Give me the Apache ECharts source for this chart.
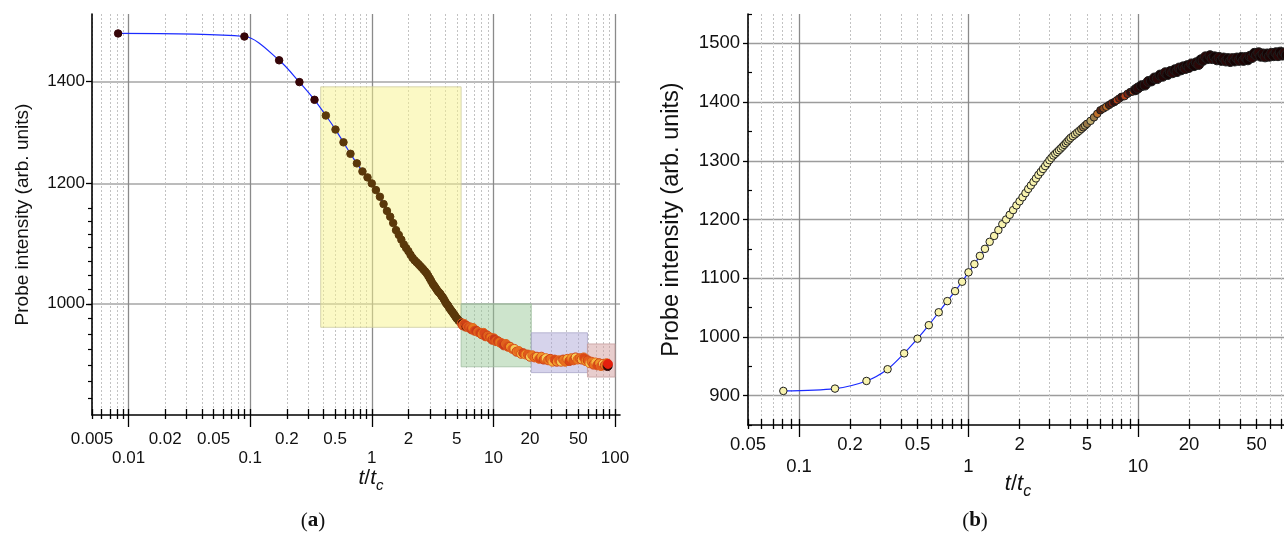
<!DOCTYPE html>
<html>
<head>
<meta charset="utf-8">
<script src="https://cdn.jsdelivr.net/npm/echarts@6/dist/echarts.min.js"></script>
<style>
  html, body { margin: 0; padding: 0; background: #ffffff; }
  #chart { width: 1284px; height: 536px; }
</style>
</head>
<body>
<div id="chart"></div>
<script>
// ---------- data ----------
// Panel (a): probe intensity while the pattern decays
const timeA = [
  0.0082, 0.0896, 0.173, 0.254, 0.338, 0.419, 0.503, 0.585, 0.668, 0.754,
  0.838, 0.922, 1.0, 1.081, 1.166, 1.25, 1.333, 1.417, 1.5, 1.583,
  1.667, 1.75, 1.833, 1.917, 2.0, 2.083, 2.167, 2.25, 2.333, 2.417,
  2.5, 2.583, 2.667, 2.75, 2.833, 2.917, 3.0, 3.083, 3.167, 3.25,
  3.333, 3.417, 3.5, 3.583, 3.667, 3.75, 3.833, 3.917, 4.0, 4.083,
  4.167, 4.25, 4.333, 4.417, 4.5, 4.583, 4.667, 4.75, 4.833, 4.917,
  5.0, 5.083, 5.167, 5.25, 5.333, 5.417,
  5.5, 5.6, 5.75, 5.9, 6.05, 6.2, 6.4, 6.6, 6.8, 7.0,
  7.25, 7.5, 7.75, 8.0, 8.3, 8.6, 8.9, 9.2, 9.5, 9.8,
  10.1, 10.5, 10.9, 11.3, 11.7, 12.2, 12.7, 13.2, 13.7, 14.3,
  14.9, 15.5, 16.2, 16.9, 17.6, 18.4, 19.2, 20.0, 20.9, 21.8,
  22.8, 23.8, 24.8, 25.9, 27.0, 28.2, 29.4, 30.6, 31.9, 33.2,
  34.6, 36.0, 37.5, 39.0, 40.6, 42.2, 43.9, 45.6, 47.4, 49.3,
  51.2, 53.2, 55.3, 57.4, 59.6, 61.8, 64.1, 66.5, 69.0, 71.5,
  74.1, 76.8, 79.6, 82.4, 85.3, 87.0, 87.5
];
const intensityA = [
  1506, 1499, 1446, 1399, 1362, 1330, 1302, 1277, 1255, 1237,
  1222, 1211, 1200, 1188, 1176, 1163, 1151, 1141, 1130, 1118,
  1110, 1102, 1094, 1088, 1083, 1077, 1072, 1068, 1065, 1062,
  1059, 1056, 1053, 1050, 1047, 1043, 1039, 1035, 1031, 1028,
  1025, 1022, 1019, 1017, 1015, 1012, 1010, 1007, 1004, 1001,
  999, 997, 994, 992, 990, 988, 986, 984, 982, 980,
  978, 977, 975, 974, 973, 972,
  971, 968, 970, 966, 967, 965, 965, 962, 964, 960,
  960, 958, 957, 955, 957, 952, 953, 951, 950, 947,
  949, 945, 945, 943, 942, 939, 941, 937, 937, 934,
  934, 930, 931, 927, 928, 926, 926, 923, 925, 922,
  923, 920, 923, 919, 921, 918, 920, 916, 919, 916,
  918, 916, 919, 916, 920, 917, 921, 918, 922, 919,
  921, 919, 922, 917, 918, 914, 916, 912, 915, 911,
  914, 910, 913, 911, 914, 910, 913
];

// Panel (b): probe intensity while the pattern is written
const timeB = [
  0.0808, 0.163, 0.25, 0.333, 0.417, 0.5, 0.583, 0.667, 0.75, 0.833,
  0.917, 1.0, 1.083, 1.167, 1.25, 1.333, 1.417, 1.5, 1.583, 1.667,
  1.75, 1.833, 1.917, 2.0, 2.083, 2.167, 2.25, 2.333, 2.417, 2.5,
  2.583, 2.667, 2.75, 2.833, 2.917, 3.0, 3.083, 3.167, 3.25, 3.333,
  3.417, 3.5, 3.583, 3.667, 3.75, 3.833, 3.917, 4.0, 4.125, 4.25,
  4.375, 4.5, 4.625, 4.75, 4.875, 5.0, 5.25, 5.5, 5.75, 6.0,
  6.25, 6.5, 6.75, 7.0, 7.25, 7.5, 7.75, 8.0, 8.33, 8.67,
  9.0, 9.33, 9.67, 10.0, 10.5, 11.0, 11.5, 12.0, 12.5, 13.0,
  13.5, 14.0, 14.5, 15.0, 15.5, 16.0, 16.5, 17.0, 17.5, 18.0,
  18.5, 19.0, 19.5, 20.0, 20.7, 21.4, 22.1, 22.8, 23.5, 24.2,
  25.0, 25.8, 26.6, 27.4, 28.3, 29.2, 30.1, 31.0, 32.0, 33.0,
  34.0, 35.0, 36.1, 37.2, 38.3, 39.5, 40.7, 41.9, 43.2, 44.5,
  45.8, 47.2, 48.6, 50.0, 51.5, 53.0, 54.6, 56.2, 57.9, 59.6,
  61.4, 63.2, 65.1, 67.0, 69.0, 71.0, 73.1, 75.0
];
const intensityB = [
  908, 912, 925, 945, 972, 997, 1020, 1042, 1061, 1078,
  1094, 1110, 1124, 1138, 1150, 1162, 1172, 1182, 1192, 1200,
  1208, 1216, 1224, 1231, 1238, 1245, 1252, 1258, 1264, 1270,
  1276, 1281, 1286, 1291, 1296, 1301, 1305, 1309, 1312, 1315,
  1318, 1321, 1324, 1327, 1330, 1333, 1336, 1339, 1342, 1345,
  1348, 1351, 1354, 1357, 1360, 1363, 1368, 1374, 1380, 1386,
  1389, 1392, 1395, 1398, 1400, 1403, 1406, 1409, 1410, 1414,
  1417, 1418, 1421, 1424, 1428, 1429, 1435, 1436, 1441, 1440,
  1446, 1444, 1450, 1447, 1452, 1450, 1455, 1452, 1458, 1455,
  1460, 1457, 1462, 1459, 1465, 1462, 1467, 1464, 1472, 1471,
  1477, 1474, 1479, 1474, 1477, 1472, 1476, 1471, 1475, 1470,
  1474, 1469, 1474, 1470, 1475, 1471, 1476, 1471, 1476, 1472,
  1478, 1476, 1483, 1480, 1484, 1478, 1482, 1477, 1482, 1478,
  1483, 1479, 1484, 1479, 1485, 1480, 1484, 1480
];

// Shaded stages in (a): time span and intensity span of each box
const stageTime = [[0.38, 5.43], [5.43, 20.5], [20.5, 59.4], [59.4, 100]];
const stageIntensity = [[1389, 965], [1000, 909], [957, 901], [941, 895]];

// Tick labels
const decadeLabelsA = [0.01, 0.1, 1, 10, 100];
const minorLabelsA = [0.005, 0.02, 0.05, 0.2, 0.5, 2, 5, 20, 50];
const yLabelsA = [1000, 1200, 1400];
const decadeLabelsB = [0.1, 1, 10];
const minorLabelsB = [0.05, 0.2, 0.5, 2, 5, 20, 50];
const yLabelsB = [900, 1000, 1100, 1200, 1300, 1400, 1500];

// ---------- helpers ----------
const FONT = '"Liberation Sans", Arial, Helvetica, sans-serif';
const L = Math.log10;

function decadeSubTicks(lo, hi) {
  const out = [];
  for (let k = -4; k <= 3; k++) {
    for (let m = 2; m <= 9; m++) {
      const v = Number((m * Math.pow(10, k)).toPrecision(6));
      if (v >= lo && v <= hi) out.push(v);
    }
  }
  return out;
}
const fmtLog = v => String(Number(Math.pow(10, v).toPrecision(2)));

// four stacked x axes per panel: decade ticks (out / in) and sub-decade ticks (out / in)
function logXAxes(grid, tMin, tMax, decades, minorLabels, fs, m1, m2, tick) {
  const lo = L(tMin), hi = L(tMax);
  const major = decades.map(L);
  const decadeTicks = [];
  for (let k = -3; k <= 3; k++) {
    const v = Math.pow(10, k);
    if (v >= tMin && v <= tMax) decadeTicks.push(L(v));
  }
  const minor = decadeSubTicks(tMin, tMax).map(L);
  const base = {
    type: 'value', gridIndex: grid, min: lo, max: hi, position: 'bottom',
    axisLine: { show: false, onZero: false },
    axisLabel: { show: false }, splitLine: { show: false }, axisTick: { show: false }
  };
  const tickStyle = { color: '#000', width: 1.3 };
  const lbl = { show: true, fontSize: fs, fontFamily: FONT, color: '#111', formatter: fmtLog };
  return [
    Object.assign({}, base, {
      axisLine: { show: true, onZero: false, lineStyle: { color: '#000', width: 1.6 } },
      axisTick: { show: true, customValues: decadeTicks, length: tick[0], lineStyle: tickStyle },
      splitLine: { show: true, lineStyle: { color: '#8a8a8a', width: 1.3 } },
      axisLabel: Object.assign({}, lbl, { customValues: major, margin: m2 })
    }),
    Object.assign({}, base, {
      axisTick: { show: true, inside: true, customValues: decadeTicks, length: tick[1], lineStyle: tickStyle }
    }),
    Object.assign({}, base, {
      axisTick: { show: true, customValues: minor, length: tick[2], lineStyle: tickStyle },
      splitLine: { show: true, lineStyle: { color: '#c2c2c2', width: 1, type: [2, 2] } },
      axisLabel: Object.assign({}, lbl, { customValues: minorLabels.map(L), margin: m1 })
    }),
    Object.assign({}, base, {
      axisTick: { show: true, inside: true, customValues: minor, length: tick[3], lineStyle: tickStyle }
    })
  ];
}

// sub-ticks on the log intensity axis of (a)
const yMinorA = [];
for (let k = -7; k <= 7; k++) yMinorA.push(1000 + k * 200 / 9);

const yMinorB = [];
for (let v = 850; v <= 1550; v += 100) yMinorB.push(v);

const xAxes = [].concat(
  logXAxes(0, 0.005, 110, decadeLabelsA, minorLabelsA, 17, 16, 35, [12, 6, 4, 6]),
  logXAxes(1, 0.05, 100, decadeLabelsB, minorLabelsB, 18.5, 10, 32, [12, 6, 4, 6])
);

const yBase = { type: 'value', position: 'left', axisLine: { show: false, onZero: false },
  splitLine: { show: false }, axisLabel: { show: false } };

const yAxes = [
  Object.assign({}, yBase, {
    gridIndex: 0, min: L(845), max: L(1551),
    axisLine: { show: true, onZero: false, lineStyle: { color: '#000', width: 1.6 } },
    axisTick: { show: true, customValues: yLabelsA.map(L), length: 6, lineStyle: { color: '#000', width: 1.3 } },
    splitLine: { show: true, lineStyle: { color: '#a6a6a6', width: 1.5 } },
    axisLabel: { show: true, customValues: yLabelsA.map(L), margin: 7, fontSize: 17, fontFamily: FONT, color: '#111',
      formatter: v => String(Math.round(Math.pow(10, v))) },
    name: 'Probe intensity (arb. units)', nameLocation: 'middle', nameGap: 60,
    nameTextStyle: { fontSize: 19, fontFamily: FONT, color: '#111' }
  }),
  Object.assign({}, yBase, {
    gridIndex: 0, min: L(845), max: L(1551),
    axisTick: { show: true, customValues: yMinorA.map(L), length: 4, lineStyle: { color: '#000', width: 1.2 } }
  }),
  Object.assign({}, yBase, {
    gridIndex: 1, min: 850, max: 1550,
    axisLine: { show: true, onZero: false, lineStyle: { color: '#000', width: 1.6 } },
    axisTick: { show: true, customValues: yLabelsB, length: 5, lineStyle: { color: '#000', width: 1.3 } },
    splitLine: { show: true, lineStyle: { color: '#9c9c9c', width: 1.4 } },
    axisLabel: { show: true, customValues: yLabelsB, margin: 8, fontSize: 18.5, fontFamily: FONT, color: '#111',
      formatter: v => String(v) },
    name: 'Probe intensity (arb. units)', nameLocation: 'middle', nameGap: 64,
    nameTextStyle: { fontSize: 23.5, fontFamily: FONT, color: '#111' }
  }),
  Object.assign({}, yBase, {
    gridIndex: 1, min: 850, max: 1550,
    axisTick: { show: true, inside: true, customValues: yMinorB, length: 4, lineStyle: { color: '#000', width: 1.2 } }
  })
];

// ---------- point styling ----------
const lateFill = ['#e8701e', '#f4b640', '#dc4816', '#f0962a', '#e25a1a', '#f6cc58', '#ea7a22'];
const lateEdge = ['#d9531a', '#cc4016', '#e2681e'];
function colorA(i) {
  const t = timeA[i];
  if (t < 0.38) return '#360508';
  if (t < 5.45) return '#5a380a';
  if (i === timeA.length - 2) return '#2e0a08';
  if (i === timeA.length - 1) return '#e4200e';
  if (t < 6.3 && i % 3 === 0) return '#4a1608';
  if (t < 13) return ['#d9481a', '#c9381a', '#e0601e', '#cf4216', '#e8781e'][i % 5];
  return lateFill[i % lateFill.length];
}
function edgeA(i) {
  const t = timeA[i];
  if (t < 5.45 || i >= timeA.length - 2) return colorA(i);
  return lateEdge[i % lateEdge.length];
}
function sizeA(i) { return timeA[i] < 5.45 ? 7.5 : 9; }

function fillB(i) {
  const t = timeB[i];
  if (t < 3.6) return '#f8f3ae';
  if (t < 4.6) return '#e6dc96';
  if (t < 5.6) return ['#c0ab6c', '#9c7a48'][i % 2];
  if (t < 6.8) return ['#8a4a22', '#c0702a', '#5a2410'][i % 3];
  if (t < 9.5) return ['#7a2412', '#3a0c08', '#b0401a'][i % 3];
  return ['#200505', '#2a0707', '#160303'][i % 3];
}
function sizeB(i) { return timeB[i] < 9.5 ? 7.5 : 10; }

// ---------- series data ----------
const lineA = timeA.map((t, i) => [L(t), L(intensityA[i])]);
const lineB = timeB.map((t, i) => [L(t), intensityB[i]]);
const dotsA = lineA.map((v, i) => ({
  value: v, symbolSize: sizeA(i),
  itemStyle: { color: colorA(i), borderColor: edgeA(i), borderWidth: 1, opacity: 1 }
}));
const dotsB = lineB.map((v, i) => ({
  value: v, symbolSize: sizeB(i),
  itemStyle: { color: fillB(i), borderColor: '#1e1e1e', borderWidth: 1, opacity: 1 }
}));

const stageColors = [
  { fill: 'rgba(247,244,140,0.5)', edge: 'rgba(205,204,160,0.8)' },
  { fill: 'rgba(150,198,148,0.48)', edge: 'rgba(160,190,160,0.8)' },
  { fill: 'rgba(170,162,214,0.48)', edge: 'rgba(170,168,200,0.8)' },
  { fill: 'rgba(206,150,150,0.48)', edge: 'rgba(200,160,160,0.8)' }
];
const stageAreas = stageTime.map((span, k) => [
  { xAxis: L(span[0]), yAxis: L(stageIntensity[k][0]),
    itemStyle: { color: stageColors[k].fill, borderColor: stageColors[k].edge, borderWidth: 1 } },
  { xAxis: L(span[1]), yAxis: L(stageIntensity[k][1]) }
]);

const option = {
  animation: false,
  backgroundColor: '#ffffff',
  grid: [
    { left: 92, top: 14, width: 528, height: 401, outerBoundsMode: 'none', containLabel: false },
    { left: 748, top: 14, width: 559.5, height: 411, outerBoundsMode: 'none', containLabel: false }
  ],
  xAxis: xAxes,
  yAxis: yAxes,
  series: [
    {
      name: 'fit (a)', type: 'line', xAxisIndex: 0, yAxisIndex: 0, data: lineA,
      smooth: 0.3, showSymbol: false, z: 2,
      lineStyle: { color: '#1b2bff', width: 1.2 },
      markArea: { silent: true, data: stageAreas }
    },
    {
      name: 'points (a)', type: 'scatter', xAxisIndex: 0, yAxisIndex: 0, data: dotsA, z: 3,
      itemStyle: { opacity: 1 }
    },
    {
      name: 'fit (b)', type: 'line', xAxisIndex: 4, yAxisIndex: 2, data: lineB,
      smooth: 0.3, showSymbol: false, z: 2,
      lineStyle: { color: '#1b2bff', width: 1.2 }
    },
    {
      name: 'points (b)', type: 'scatter', xAxisIndex: 4, yAxisIndex: 2, data: dotsB, z: 3,
      itemStyle: { opacity: 1 }
    }
  ],
  graphic: [
    { type: 'text', x: 371, y: 478, style: {
        text: '{i|t}{n|/}{i|t}{s|c}', align: 'center', verticalAlign: 'middle',
        rich: {
          i: { fontSize: 21, fontStyle: 'italic', fontFamily: FONT, lineHeight: 30, fill: '#111' },
          n: { fontSize: 21, fontFamily: FONT, lineHeight: 30, fill: '#111' },
          s: { fontSize: 15, fontStyle: 'italic', fontFamily: FONT, lineHeight: 15, verticalAlign: 'bottom', fill: '#111' }
        } } },
    { type: 'text', x: 1018, y: 484, style: {
        text: '{i|t}{n|/}{i|t}{s|c}', align: 'center', verticalAlign: 'middle',
        rich: {
          i: { fontSize: 22, fontStyle: 'italic', fontFamily: FONT, lineHeight: 32, fill: '#111' },
          n: { fontSize: 22, fontFamily: FONT, lineHeight: 32, fill: '#111' },
          s: { fontSize: 16, fontStyle: 'italic', fontFamily: FONT, lineHeight: 16, verticalAlign: 'bottom', fill: '#111' }
        } } },
    { type: 'text', x: 313, y: 521, style: {
        text: '({b|a})', align: 'center', verticalAlign: 'middle',
        font: '21px "Liberation Serif", serif', fill: '#111',
        rich: { b: { fontSize: 21, fontWeight: 'bold', fontFamily: '"Liberation Serif", serif', fill: '#111' } } } },
    { type: 'text', x: 975, y: 521, style: {
        text: '({b|b})', align: 'center', verticalAlign: 'middle',
        font: '21px "Liberation Serif", serif', fill: '#111',
        rich: { b: { fontSize: 21, fontWeight: 'bold', fontFamily: '"Liberation Serif", serif', fill: '#111' } } } }
  ]
};

const chart = echarts.init(document.getElementById('chart'), null, { renderer: 'canvas' });
chart.setOption(option);
</script>
</body>
</html>
